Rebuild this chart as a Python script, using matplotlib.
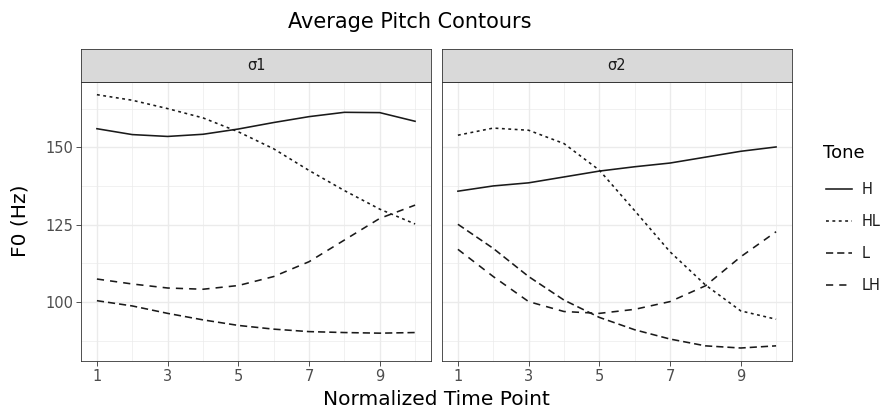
import matplotlib
matplotlib.use("Agg")
import matplotlib.pyplot as plt
from matplotlib.lines import Line2D

time_points = [1, 2, 3, 4, 5, 6, 7, 8, 9, 10]
tones = ["H", "HL", "L", "LH"]
panels = ["σ1", "σ2"]

s1_H = [156.0, 154.1, 153.5, 154.2, 155.9, 158.0, 159.9, 161.3, 161.2, 158.4]
s1_HL = [167.0, 165.2, 162.5, 159.5, 155.0, 149.5, 142.5, 136.0, 130.0, 125.2]
s1_L = [100.4, 98.7, 96.3, 94.2, 92.4, 91.2, 90.4, 90.1, 89.9, 90.1]
s1_LH = [107.4, 105.8, 104.5, 104.1, 105.3, 108.2, 113.0, 120.0, 127.0, 131.3]

s2_H = [135.8, 137.5, 138.5, 140.4, 142.3, 143.7, 144.9, 146.8, 148.7, 150.1]
s2_HL = [153.9, 156.2, 155.5, 151.2, 142.6, 129.5, 116.2, 105.5, 97.1, 94.4]
s2_L = [125.1, 117.3, 108.2, 100.6, 95.0, 91.0, 88.0, 85.8, 85.1, 85.8]
s2_LH = [117.0, 108.2, 100.1, 96.9, 96.3, 97.6, 100.1, 105.2, 114.6, 122.7]

data = {
    "σ1": {"H": s1_H, "HL": s1_HL, "L": s1_L, "LH": s1_LH},
    "σ2": {"H": s2_H, "HL": s2_HL, "L": s2_L, "LH": s2_LH},
}

LW = 1.15
styles = {
    "H": dict(linestyle="-"),
    "HL": dict(linestyle=(0, (1.8, 2.2))),
    "L": dict(linestyle=(0, (4.5, 2.5))),
    "LH": dict(linestyle=(0, (4.5, 3.8))),
}
line_color = "#1a1a1a"

W, H = 889, 411
fig = plt.figure(figsize=(W / 100, H / 100), dpi=100)

def fx(px):
    return px / W

def fy(py):
    return 1 - py / H

panel_left = [81, 442]
panel_w = 350
p_top, p_bot = 82, 361
s_top = 49

for i, pname in enumerate(panels):
    ax = fig.add_axes([fx(panel_left[i]), fy(p_bot), panel_w / W, (p_bot - p_top) / H])
    ax.set_facecolor("white")
    for t in tones:
        ax.plot(time_points, data[pname][t], color=line_color, lw=LW,
                dash_capstyle="butt", **styles[t])
    ax.set_xlim(0.55, 10.45)
    ax.set_ylim(80.9, 171.1)
    ax.set_xticks([1, 3, 5, 7, 9])
    ax.set_xticks([2, 4, 6, 8, 10], minor=True)
    ax.set_yticks([100, 125, 150])
    ax.set_yticks([87.5, 112.5, 137.5, 162.5], minor=True)
    ax.grid(which="major", color="#ebebeb", lw=1.0)
    ax.grid(which="minor", color="#ebebeb", lw=0.5)
    ax.set_axisbelow(True)
    for sp in ax.spines.values():
        sp.set_color("#333333")
        sp.set_linewidth(0.6)
    ax.tick_params(which="major", length=3.5, width=0.6, color="#333333",
                   labelcolor="#4d4d4d", labelsize=10.5, pad=2)
    ax.tick_params(which="minor", length=0)
    if i == 1:
        ax.set_yticklabels([])
        ax.tick_params(axis="y", which="major", length=0)
    # strip
    sax = fig.add_axes([fx(panel_left[i]), fy(p_top), panel_w / W, (p_top - s_top) / H])
    sax.set_facecolor("#d9d9d9")
    sax.set_xticks([])
    sax.set_yticks([])
    for sp in sax.spines.values():
        sp.set_color("#333333")
        sp.set_linewidth(0.6)
    sax.text(0.5, 0.5, pname, ha="center", va="center", fontsize=10.5,
             color="#1a1a1a", transform=sax.transAxes)

fig.text(fx(410), fy(22), "Average Pitch Contours", ha="center", va="center",
         fontsize=15, color="#000000")
fig.text(fx(436), fy(399), "Normalized Time Point", ha="center", va="center",
         fontsize=14.5, color="#000000")
fig.text(fx(20), fy(221), "F0 (Hz)", ha="center", va="center", rotation=90,
         fontsize=14.5, color="#000000")

# legend
fig.text(fx(823), fy(153), "Tone", ha="left", va="center", fontsize=13)
key_y = [189, 221, 253, 285]
for t, ky in zip(tones, key_y):
    fig.add_artist(Line2D([fx(826), fx(852)], [fy(ky), fy(ky)], color=line_color,
                          lw=LW, dash_capstyle="butt", transform=fig.transFigure,
                          **styles[t]))
    fig.text(fx(862), fy(ky), t, ha="left", va="center", fontsize=10.5,
             color="#1a1a1a")

fig.savefig("out.png", dpi=100, facecolor="white")
